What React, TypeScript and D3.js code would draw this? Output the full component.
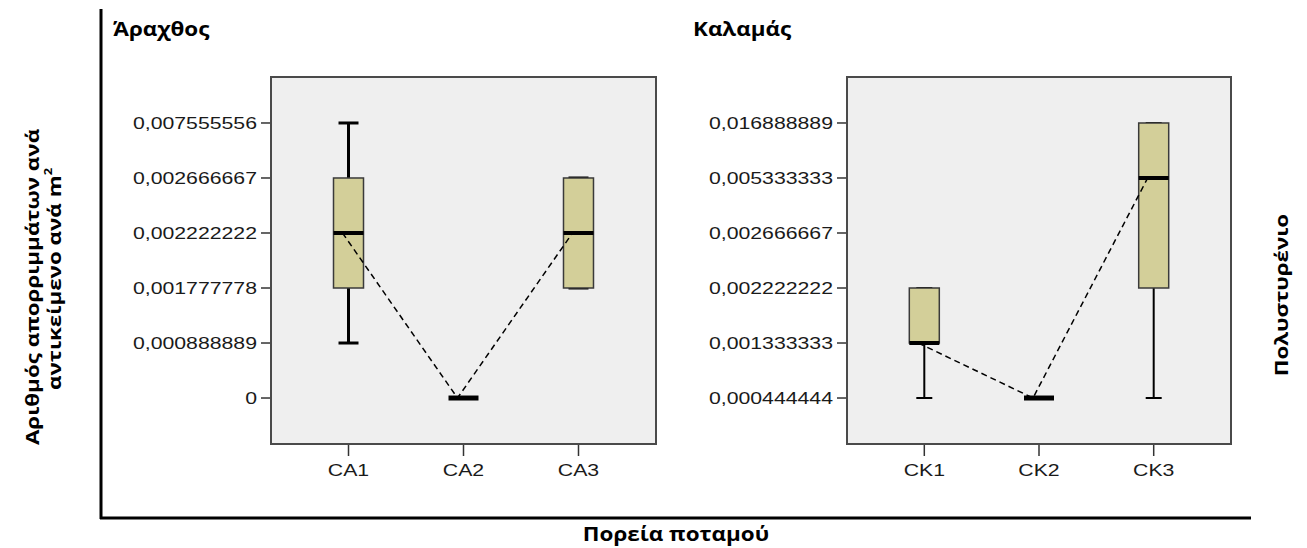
import React from 'react';
import * as d3 from 'd3';

// ---------- DATA ----------
const arachthosCategories = ['CA1', 'CA2', 'CA3'];
const arachthosTicks = ['0', '0,000888889', '0,001777778', '0,002222222', '0,002666667', '0,007555556'];
const arachthosMin = ['0,000888889', '0', '0,001777778'];
const arachthosQ1 = ['0,001777778', '0', '0,001777778'];
const arachthosMedian = ['0,002222222', '0', '0,002222222'];
const arachthosQ3 = ['0,002666667', '0', '0,002666667'];
const arachthosMax = ['0,007555556', '0', '0,002666667'];

const kalamasCategories = ['CK1', 'CK2', 'CK3'];
const kalamasTicks = ['0,000444444', '0,001333333', '0,002222222', '0,002666667', '0,005333333', '0,016888889'];
const kalamasMin = ['0,000444444', '0,000444444', '0,000444444'];
const kalamasQ1 = ['0,001333333', '0,000444444', '0,002222222'];
const kalamasMedian = ['0,001333333', '0,000444444', '0,005333333'];
const kalamasQ3 = ['0,002222222', '0,000444444', '0,016888889'];
const kalamasMax = ['0,002222222', '0,000444444', '0,016888889'];

const panelTitles = ['Άραχθος', 'Καλαμάς'];
const yTitleLines = ['Αριθμός απορριμμάτων ανά', 'αντικείμενο ανά m'];
const xTitle = 'Πορεία ποταμού';
const rightTitle = 'Πολυστυρένιο';

// ---------- STYLE ----------
const W = 1307;
const H = 548;
const PANEL_TOP = 77;
const PANEL_BOTTOM = 444;
const BG = '#efefef';
const BOX_FILL = '#d3cf99';
const TICK_FONT = '"Liberation Sans", Arial, sans-serif';
const TITLE_FONT = '"Open Sans", "Noto Sans", sans-serif';
const TITLE_SIZE = 19;
const TITLE_SX = 1.18;
const YTITLE_SIZE = 17.5;
const YTITLE_SX = 1.28;
const TICK_SIZE = 17;
const TICK_SX = 1.25;

type PanelProps = {
  left: number;
  right: number;
  title: string;
  titleX: number;
  categories: string[];
  ticks: string[];
  mins: string[];
  q1s: string[];
  medians: string[];
  q3s: string[];
  maxs: string[];
  whiskerWidth: number;
  capHalf: number;
};

function Panel(p: PanelProps) {
  const x = d3.scalePoint<string>().domain(p.categories).range([p.left, p.right]).padding(0.674);
  const y = d3.scalePoint<string>().domain(p.ticks).range([PANEL_BOTTOM, PANEL_TOP]).padding(0.836);
  const boxHalf = 15;
  const lineOffset = -6;
  const line = d3
    .line<string>()
    .x((c) => (x(c) as number) + lineOffset)
    .y((c, i) => y(p.medians[i]) as number);
  return (
    <g>
      <text
        transform={`translate(${p.titleX},36) scale(${TITLE_SX},1)`}
        fontFamily={TITLE_FONT}
        fontWeight={700}
        fontSize={TITLE_SIZE}
        fill="#000"
      >
        {p.title}
      </text>
      <rect x={p.left} y={PANEL_TOP} width={p.right - p.left} height={PANEL_BOTTOM - PANEL_TOP} fill={BG} />
      {/* y ticks */}
      {p.ticks.map((t) => (
        <g key={t}>
          <line x1={p.left - 10} x2={p.left} y1={y(t)} y2={y(t)} stroke="#333" strokeWidth={1.5} />
          <text
            transform={`translate(${p.left - 14},${(y(t) as number) + 6}) scale(${TICK_SX},1)`}
            textAnchor="end"
            fontFamily={TICK_FONT}
            fontSize={TICK_SIZE}
            fill="#1a1a1a"
          >
            {t}
          </text>
        </g>
      ))}
      {/* x ticks */}
      {p.categories.map((c) => (
        <g key={c}>
          <line x1={x(c)} x2={x(c)} y1={PANEL_BOTTOM} y2={PANEL_BOTTOM + 12} stroke="#333" strokeWidth={1.5} />
          <text
            transform={`translate(${x(c)},${PANEL_BOTTOM + 32}) scale(${TICK_SX},1)`}
            textAnchor="middle"
            fontFamily={TICK_FONT}
            fontSize={TICK_SIZE}
            fill="#1a1a1a"
          >
            {c}
          </text>
        </g>
      ))}
      {/* boxes */}
      {p.categories.map((c, i) => {
        const cx = x(c) as number;
        const yMin = y(p.mins[i]) as number;
        const yQ1 = y(p.q1s[i]) as number;
        const yMed = y(p.medians[i]) as number;
        const yQ3 = y(p.q3s[i]) as number;
        const yMax = y(p.maxs[i]) as number;
        return (
          <g key={c}>
            <line x1={cx} x2={cx} y1={yMin} y2={yQ1} stroke="#000" strokeWidth={p.whiskerWidth} />
            <line x1={cx} x2={cx} y1={yQ3} y2={yMax} stroke="#000" strokeWidth={p.whiskerWidth} />
            <line x1={cx - p.capHalf} x2={cx + p.capHalf} y1={yMin} y2={yMin} stroke="#000" strokeWidth={p.whiskerWidth} />
            <line x1={cx - p.capHalf} x2={cx + p.capHalf} y1={yMax} y2={yMax} stroke="#000" strokeWidth={p.whiskerWidth} />
            {yQ1 !== yQ3 && (
              <rect
                x={cx - boxHalf}
                y={yQ3}
                width={boxHalf * 2}
                height={yQ1 - yQ3}
                fill={BOX_FILL}
                stroke="#3a3a3a"
                strokeWidth={1.5}
              />
            )}
            <line
              x1={cx - boxHalf}
              x2={cx + boxHalf}
              y1={yMed}
              y2={yMed}
              stroke="#000"
              strokeWidth={yQ1 === yQ3 ? 5 : 4}
            />
          </g>
        );
      })}
      <path d={line(p.categories) || ''} fill="none" stroke="#000" strokeWidth={1.5} strokeDasharray="6,4" />
      <rect
        x={p.left}
        y={PANEL_TOP}
        width={p.right - p.left}
        height={PANEL_BOTTOM - PANEL_TOP}
        fill="none"
        stroke="#4a4a4a"
        strokeWidth={2}
      />
    </g>
  );
}

export default function App() {
  return (
    <svg width={W} height={H} style={{ position: 'absolute', left: 0, top: 0, background: '#fff' }}>
      <rect x={0} y={0} width={W} height={H} fill="#fff" />
      {/* outer axes */}
      <line x1={101} x2={101} y1={9} y2={519} stroke="#000" strokeWidth={3} />
      <line x1={100} x2={1251} y1={518} y2={518} stroke="#000" strokeWidth={3} />
      <Panel
        left={271}
        right={656}
        title={panelTitles[0]}
        titleX={113}
        categories={arachthosCategories}
        ticks={arachthosTicks}
        mins={arachthosMin}
        q1s={arachthosQ1}
        medians={arachthosMedian}
        q3s={arachthosQ3}
        maxs={arachthosMax}
        whiskerWidth={3}
        capHalf={10}
      />
      <Panel
        left={847}
        right={1231}
        title={panelTitles[1]}
        titleX={693}
        categories={kalamasCategories}
        ticks={kalamasTicks}
        mins={kalamasMin}
        q1s={kalamasQ1}
        medians={kalamasMedian}
        q3s={kalamasQ3}
        maxs={kalamasMax}
        whiskerWidth={2}
        capHalf={8}
      />
      {/* axis titles */}
      <g fontFamily={TITLE_FONT} fontWeight={700} fill="#000" textAnchor="middle">
        <text fontSize={YTITLE_SIZE} transform={`translate(39,287) rotate(-90) scale(${YTITLE_SX},1)`}>
          {yTitleLines[0]}
        </text>
        <text fontSize={YTITLE_SIZE} transform={`translate(61,279) rotate(-90) scale(${YTITLE_SX},1)`}>
          {yTitleLines[1]}
          <tspan fontSize={10} dy={-9}>2</tspan>
        </text>
        <text fontSize={YTITLE_SIZE} transform={`translate(1288,295) rotate(-90) scale(${YTITLE_SX},1)`}>
          {rightTitle}
        </text>
        <text fontSize={TITLE_SIZE} transform={`translate(676,541) scale(${TITLE_SX},1)`}>
          {xTitle}
        </text>
      </g>
    </svg>
  );
}
